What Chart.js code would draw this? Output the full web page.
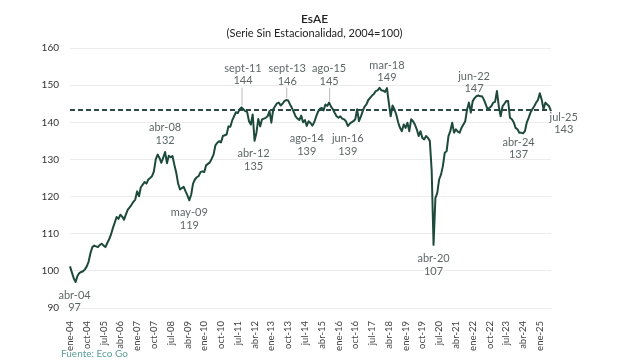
<!DOCTYPE html>
<html lang="es">
<head>
<meta charset="utf-8">
<title>EsAE</title>
<script src="https://cdn.jsdelivr.net/npm/chart.js@4.4.1/dist/chart.umd.min.js"></script>
<style>
  html, body { margin: 0; padding: 0; background: #fff; }
  #wrap { width: 629px; height: 361px; }
</style>
</head>
<body>
<div id="wrap"><canvas id="esaeChart"></canvas></div>
<script>
// ── Datos ────────────────────────────────────────────────────────────────
const MONTHS     = ['ene', 'feb', 'mar', 'abr', 'may', 'jun', 'jul', 'ago', 'sep', 'oct', 'nov', 'dic'];
const FIRST_YEAR = 2004;
const AVERAGE    = 143.3;

const esae = [
  101.2,  99.6,  98.0,  97.0,  98.6,  99.4,  99.7,  99.9, 100.4, 101.2, 102.5, 104.8, // 2004
  106.4, 106.8, 106.6, 106.4, 107.0, 107.3, 106.8, 106.4, 107.5, 108.5, 109.8, 111.5, // 2005
  113.0, 114.5, 114.0, 115.1, 114.6, 113.8, 115.2, 116.5, 117.1, 117.8, 118.6, 119.2, // 2006
  121.4, 120.1, 122.5, 123.2, 123.9, 123.5, 124.6, 125.0, 125.5, 126.8, 130.0, 131.3, // 2007
  130.4, 129.1, 130.5, 132.0, 129.0, 131.0, 130.6, 130.9, 128.5, 126.4, 123.5, 121.9, // 2008
  122.3, 122.6, 121.4, 120.3, 119.0, 120.5, 123.5, 124.6, 125.2, 125.5, 126.6, 126.8, // 2009
  126.6, 128.4, 128.8, 129.2, 130.2, 131.3, 133.8, 134.5, 134.9, 134.6, 136.3, 136.5, // 2010
  136.7, 138.9, 138.8, 140.5, 141.6, 142.7, 142.5, 143.5, 144.0, 143.5, 143.0, 142.8, // 2011
  140.3, 139.4, 142.1, 135.0, 137.2, 140.9, 138.9, 140.8, 141.0, 141.2, 141.6, 143.0, // 2012
  139.9, 143.5, 144.3, 145.1, 145.3, 144.5, 145.0, 145.7, 146.0, 145.9, 144.8, 143.9, // 2013
  142.8, 141.6, 141.0, 140.6, 141.8, 140.0, 140.6, 139.0, 140.3, 139.8, 139.1, 140.0, // 2014
  141.5, 142.8, 143.6, 143.9, 143.2, 144.8, 144.4, 145.3, 144.2, 143.5, 142.5, 141.6, // 2015
  141.2, 141.6, 141.0, 140.8, 140.3, 139.0, 139.6, 140.0, 140.3, 140.8, 143.5, 140.3, // 2016
  141.5, 143.0, 144.2, 144.8, 146.0, 146.6, 147.2, 147.6, 148.4, 148.6, 149.3, 148.6, // 2017
  148.5, 148.2, 149.2, 145.3, 141.6, 144.5, 143.5, 142.1, 140.0, 138.5, 137.6, 139.4, // 2018
  138.5, 139.9, 137.6, 140.8, 140.3, 139.4, 138.1, 136.3, 137.6, 135.8, 135.4, 136.3, // 2019
  135.8, 135.0, 127.0, 107.0, 119.6, 121.0, 124.6, 125.9, 128.2, 131.8, 132.2, 136.3, // 2020
  137.6, 139.9, 137.2, 138.1, 137.5, 137.2, 138.5, 139.4, 140.3, 143.5, 145.3, 142.6, // 2021
  145.7, 146.5, 147.0, 147.2, 147.0, 147.0, 146.1, 144.8, 143.5, 143.9, 144.3, 145.3, // 2022
  145.5, 148.4, 144.3, 141.6, 144.3, 145.0, 145.7, 145.7, 141.2, 140.8, 140.0, 138.5, // 2023
  138.1, 137.2, 137.2, 137.0, 137.6, 139.9, 141.2, 142.6, 143.5, 144.3, 145.3, 146.0, // 2024
  147.8, 146.1, 143.5, 145.3, 144.8, 144.3, 143.0,                                    // 2025
];

const Y_TICKS = [90, 100, 110, 120, 130, 140, 150, 160];

// Etiquetas de puntos destacados
const NOTE_MONTHS = ['abr-04', 'abr-08', 'may-09', 'sep-11', 'abr-12', 'sep-13', 'ago-14',
                     'ago-15', 'jun-16', 'mar-18', 'abr-20', 'jun-22', 'abr-24', 'jul-25'];
const NOTE_TEXT   = ['abr-04', 'abr-08', 'may-09', 'sept-11', 'abr-12', 'sept-13', 'ago-14',
                     'ago-15', 'jun-16', 'mar-18', 'abr-20', 'jun-22', 'abr-24', 'jul-25'];
const NOTE_VALUES = [97, 132, 119, 144, 135, 146, 139, 145, 139, 149, 107, 147, 137, 143];

const labels = esae.map((_, i) =>
  `${MONTHS[i % 12]}-${String((FIRST_YEAR + Math.floor(i / 12)) % 100).padStart(2, '0')}`);

// ── Estilos ──────────────────────────────────────────────────────────────
const FONT      = 'Lato, "Noto Sans", sans-serif';
const LINE      = '#1d4a3c';
const NOTE_GREY = '#5e6767';

// offset del texto respecto al punto (dx, dy de la primera línea)
const NOTE_PLACE = [
  { dx: -1,   dy: 13 },
  { dx: 0,    dy: -24.5 },
  { dx: 0,    dy: 12.6 },
  { dx: 1.5,  dy: -39, leader: true },
  { dx: -1,   dy: 12.7 },
  { dx: 1,    dy: -31.5, leader: true },
  { dx: 0,    dy: 12.8 },
  { dx: 0,    dy: -35, leader: true },
  { dx: 0,    dy: 12.8 },
  { dx: 0,    dy: -23.7 },
  { dx: 0,    dy: 13.8 },
  { dx: -8,   dy: -20 },
  { dx: -4.5, dy: 8.8 },
  { dx: 12.7, dy: 6 },
];

const notesPlugin = {
  id: 'notes',
  afterDatasetsDraw(chart) {
    const { ctx, scales: { x, y } } = chart;
    ctx.save();
    ctx.font = `11px ${FONT}`;
    ctx.textAlign = 'center';
    ctx.textBaseline = 'middle';
    NOTE_MONTHS.forEach((m, i) => {
      const p  = NOTE_PLACE[i];
      const px = x.getPixelForValue(labels.indexOf(m));
      const py = y.getPixelForValue(NOTE_VALUES[i]);
      const tx = px + p.dx, ty = py + p.dy;
      ctx.fillStyle = NOTE_GREY;
      ctx.fillText(NOTE_TEXT[i], tx, ty);
      ctx.fillText(String(NOTE_VALUES[i]), tx, ty + 12.5);
      if (p.leader) {
        ctx.strokeStyle = '#b5baba';
        ctx.lineWidth = 1;
        ctx.beginPath();
        ctx.moveTo(px + 0.5, ty + 19);
        ctx.lineTo(px + 0.5, py - 2);
        ctx.stroke();
      }
    });
    ctx.restore();
  },
  afterDraw(chart) {
    const { ctx, width } = chart;
    ctx.save();
    ctx.textBaseline = 'middle';
    ctx.textAlign = 'center';
    ctx.fillStyle = '#222';
    ctx.font = `600 12px ${FONT}`;
    ctx.fillText('EsAE', width / 2, 19);
    ctx.font = `11px ${FONT}`;
    ctx.fillText('(Serie Sin Estacionalidad, 2004=100)', width / 2, 33);
    ctx.textAlign = 'left';
    ctx.fillStyle = '#5b9e9a';
    ctx.font = `10px ${FONT}`;
    ctx.fillText('Fuente: Eco Go', 61, 354);
    ctx.restore();
  },
};

new Chart(document.getElementById('esaeChart'), {
  type: 'line',
  data: {
    labels,
    datasets: [
      {
        data: esae,
        borderColor: LINE, borderWidth: 2,
        pointRadius: 0, tension: 0, borderJoinStyle: 'round',
      },
      {
        data: labels.map(() => AVERAGE),
        borderColor: '#2f4a46', borderWidth: 2, borderDash: [5, 3],
        pointRadius: 0,
      },
    ],
  },
  options: {
    responsive: true, maintainAspectRatio: false, animation: false,
    layout: { padding: { top: 48, left: 10, right: 78, bottom: 0 } },
    plugins: { legend: { display: false }, tooltip: { enabled: false } },
    scales: {
      x: {
        grid: { display: false }, border: { display: false },
        afterFit: s => { s.height = 53; },
        ticks: {
          autoSkip: false, maxRotation: 90, minRotation: 90, padding: 5,
          color: '#444', font: { family: FONT, size: 9.5 },
          callback: (v, i) => (i % 9 === 0 ? labels[i] : ''),
        },
      },
      y: {
        min: Y_TICKS[0], max: Y_TICKS[Y_TICKS.length - 1],
        grid: { color: '#ececec', drawTicks: false }, border: { display: false },
        afterFit: s => { s.width = 60; },
        afterBuildTicks: s => { s.ticks = Y_TICKS.map(v => ({ value: v })); },
        ticks: { padding: 11, color: '#333', font: { family: FONT, size: 10 } },
      },
    },
  },
  plugins: [notesPlugin],
});
</script>
</body>
</html>
